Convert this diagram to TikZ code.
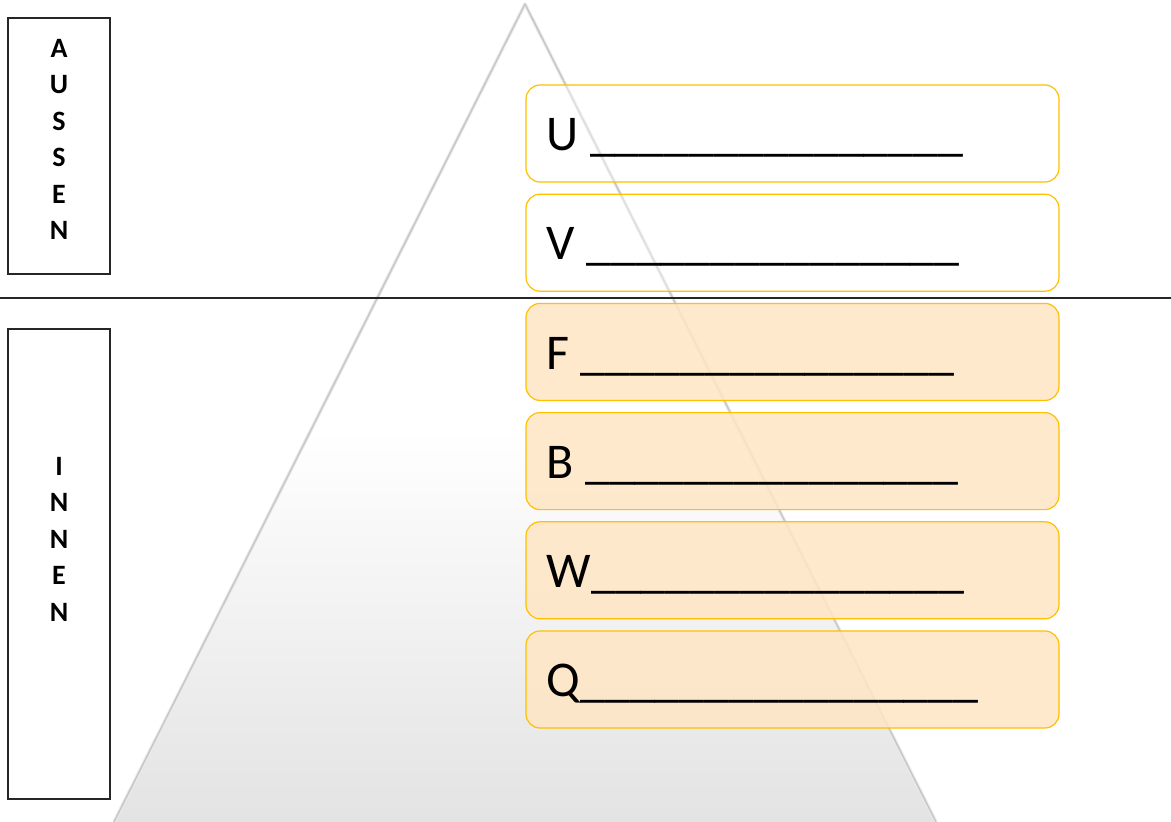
\documentclass[tikz,border=0pt]{standalone}
\usepackage{fontspec}
\setmainfont{Carlito}
\usetikzlibrary{positioning,calc}

\definecolor{ygold}{HTML}{FFC000}
\definecolor{slotfill}{HTML}{FFE6C4}
\pgfdeclareverticalshading{pyrshade}{100bp}{color(0bp)=(black!11); color(25bp)=(black!11); color(49bp)=(white); color(100bp)=(white)}
\newcommand{\fillin}{\_\_\_\_\_\_\_\_\_\_\_\_\_\_\_}

\begin{document}
\begin{tikzpicture}[
  x=1pt,y=-1pt,
  font=\fontsize{50}{60}\selectfont,
  slot/.style={rounded corners=14pt,draw=ygold,line width=1.2pt,minimum width=533pt,
               minimum height=97pt,inner sep=0pt,text opacity=1,draw opacity=1},
  outbox/.style={slot,fill=white,fill opacity=0.4},
  inbox/.style ={slot,fill=slotfill,fill opacity=0.85},
  lbl/.style={anchor=base west,inner sep=0pt},
  sidebox/.style={draw=black!85,line width=1.2pt,minimum width=102pt,inner sep=0pt},
  stack/.style={font=\fontsize{28}{36.5}\selectfont\bfseries,align=center,anchor=north,inner sep=0pt},
  edge/.style={draw=black!22,line width=1.5pt,line join=round}
]
\useasboundingbox (0,0) rectangle (1171,822);
\fill[white] (0,0) rectangle (1171,822);

% pyramid
\coordinate (apex) at (525,4);
\coordinate (bl) at (114,822);
\coordinate (br) at (936,822);
\shade[shading=pyrshade] (apex) -- (bl) -- (br) -- cycle;
\draw[edge,draw=black!8,line width=3.5pt] (bl) -- (apex) -- (br);
\draw[edge] (bl) -- (apex) -- (br);

% divider
\draw[black!85,line width=1.2pt] (0,298) -- (1171,298);

% side labels
\node[sidebox,minimum height=256pt] (aussen) at (59,146) {};
\node[sidebox,minimum height=470pt] (innen) at (59,564) {};
\node[stack] (taussen) at (59,39) {A\\U\\S\\S\\E\\N};
\node[stack] (tinnen) at (59,457) {I\\N\\N\\E\\N};

% slots
\node[outbox] (u) at (792.5,133.5) {};
\node[outbox,below=11pt of u] (v) {};
\node[inbox,below=11pt of v] (f) {};
\node[inbox,below=11pt of f] (b) {};
\node[inbox,below=11pt of b] (w) {};
\node[inbox,below=11pt of w] (q) {};

\node[lbl] (lu) at ($(u.south west)+(21,-32)$) {U \fillin};
\node[lbl] (lv) at ($(v.south west)+(21,-32)$) {V \fillin};
\node[lbl] (lf) at ($(f.south west)+(21,-32)$) {F \fillin};
\node[lbl] (lb) at ($(b.south west)+(21,-32)$) {B \fillin};
\node[lbl] (lw) at ($(w.south west)+(21,-32)$) {W\fillin};
\node[lbl] (lq) at ($(q.south west)+(21,-32)$) {Q\fillin\_};

\end{tikzpicture}
\end{document}
